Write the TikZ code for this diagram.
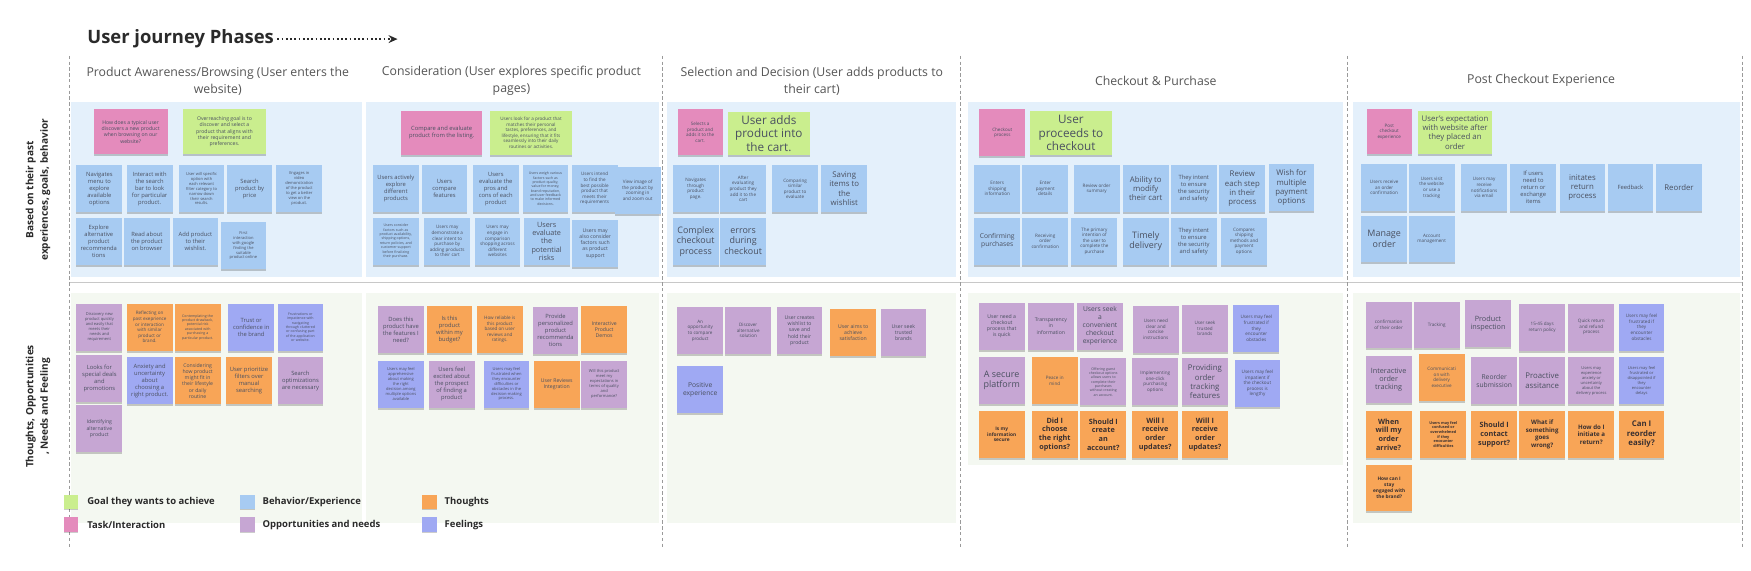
\documentclass[tikz,border=0pt]{standalone}
\usepackage{fontspec}
\setmainfont{Open Sans}
\usetikzlibrary{shadows,arrows.meta}
\definecolor{bandB}{HTML}{E4F0FB}
\definecolor{bandG}{HTML}{F4F8F1}
\definecolor{cBlue}{HTML}{A7CBF2}
\definecolor{cPurp}{HTML}{C6A6D3}
\definecolor{cOrng}{HTML}{F8A557}
\definecolor{cFeel}{HTML}{9FA9F3}
\definecolor{cPink}{HTML}{E48BBC}
\definecolor{cGoal}{HTML}{CAEE8E}
\definecolor{txt}{HTML}{4A5060}
\definecolor{qtxt}{HTML}{3A3030}
\definecolor{hdr}{HTML}{555555}
\definecolor{lbl}{HTML}{2A2A2A}
\definecolor{sep}{HTML}{C8C8C8}
\definecolor{dsh}{HTML}{9A9A9A}
\begin{document}
\begin{tikzpicture}[x=1pt,y=-1pt,
  nt/.style={minimum width=41pt,minimum height=42pt,inner sep=0.5pt,align=center,text=txt,
    drop shadow={shadow xshift=0pt,shadow yshift=-1.8pt,opacity=0.2,fill=black}},
  nb/.style={nt,fill=cBlue}, np/.style={nt,fill=cPurp}, no/.style={nt,fill=cOrng},
  nf/.style={nt,fill=cFeel}, nk/.style={nt,fill=cPink}, ng/.style={nt,fill=cGoal},
  nq/.style={nt,fill=cOrng,text=qtxt},
  t3/.style={font=\fontsize{3.2}{3.9}\selectfont},
  t35/.style={font=\fontsize{3.6}{4.4}\selectfont},
  t4/.style={font=\fontsize{4.1}{5}\selectfont},
  t45/.style={font=\fontsize{4.6}{5.6}\selectfont},
  t5/.style={font=\fontsize{5.2}{6.3}\selectfont},
  t6/.style={font=\fontsize{6}{7.2}\selectfont},
  t65/.style={font=\fontsize{6.5}{7.5}\selectfont},
  t7/.style={font=\fontsize{7}{8.3}\selectfont},
  t8/.style={font=\fontsize{8}{9.4}\selectfont},
  t10/.style={font=\fontsize{10.5}{12.3}\selectfont},
  b35/.style={font=\fontsize{3.4}{4.1}\selectfont\bfseries},
  b4/.style={font=\fontsize{4.3}{5.2}\selectfont\bfseries},
  b55/.style={font=\fontsize{5.5}{6.6}\selectfont\bfseries},
  b65/.style={font=\fontsize{6.5}{7.8}\selectfont\bfseries},
  b7/.style={font=\fontsize{7}{8.4}\selectfont\bfseries},
  phase/.style={font=\fontsize{11}{15}\selectfont,text=hdr,align=center},
  vdash/.style={draw=dsh,line width=0.8pt,dash pattern=on 3pt off 2.2pt},
  legbox/.style={minimum width=13pt,minimum height=13pt,inner sep=0pt,
    drop shadow={shadow xshift=0pt,shadow yshift=-1pt,opacity=0.2,fill=black}},
  legtxt/.style={font=\fontsize{8.5}{10}\selectfont\bfseries,text=lbl,anchor=west,inner sep=0pt}
]
\useasboundingbox (0,0) rectangle (1568,511);
\fill[white] (0,0) rectangle (1568,511);

% bands
\fill[bandB] (64,91) rectangle (324,248);
\fill[bandB] (328,91) rectangle (590,248);
\fill[bandB] (597,91) rectangle (856,248);
\fill[bandB] (867,91) rectangle (1203,248);
\fill[bandB] (1212,91) rectangle (1558,248);
\fill[bandG] (64,262) rectangle (324,468);
\fill[bandG] (328,262) rectangle (590,468);
\fill[bandG] (597,262) rectangle (856,468);
\fill[bandG] (867,262) rectangle (1203,416);
\fill[bandG] (1212,262) rectangle (1558,468);

% separators
\draw[sep,line width=1pt] (62,253) -- (1560,253);
\foreach \xx in {62.5,593,860.5,1207,1560} \draw[vdash] (\xx,50) -- (\xx,490);

% title
\node[font=\fontsize{16.5}{19}\selectfont\bfseries,text=lbl,anchor=west,inner sep=0pt] (title) at (78,35) {User journey Phases};
\coordinate (arrEnd) at (356,35);
\draw[lbl,line width=1.6pt,dash pattern=on 1.6pt off 2.2pt,-{Stealth[length=8pt,width=7pt]}] ([xshift=3pt]title.east) -- (arrEnd);

% phase headers
\node[phase] (h1) at (195,72.5) {Product Awareness/Browsing (User enters the\\website)};
\node[phase] (h2) at (458,72.5) {Consideration (User explores specific product\\pages)};
\node[phase] (h3) at (727,72.5) {Selection and Decision (User adds products to\\their cart)};
\node[phase] (h4) at (1035,72) {Checkout \& Purchase};
\node[phase] (h5) at (1380,72) {Post Checkout Experience};

% row labels
\node[rotate=90,font=\fontsize{9}{13}\selectfont\bfseries,align=center,text=lbl] (lab1) at (34,170) {Based on their past\\experiences, goals, behavior};
\node[rotate=90,font=\fontsize{9}{13}\selectfont\bfseries,align=center,text=lbl] (lab2) at (34,364) {Thoughts, Opportunities\\, Needs and Feeling};

% ---------- Phase 1 top
\node[nk,t45,minimum width=66pt,minimum height=40pt] (p1k) at (117,118) {How does a typical user\\discovers a new product\\when browsing on our\\website?};
\node[ng,t45,minimum width=74pt,minimum height=40pt] (p1g) at (201,118) {Overreaching goal is to\\discover and select a\\product that aligns with\\their requirement and\\preferences.};
\node[nb,t5] (p1b1) at (89,169) {Navigates\\menu to\\explore\\available\\options};
\node[nb,t5] (p1b2) at (134,169) {Interact with\\the search\\bar to look\\for particular\\product.};
\node[nb,t35] (p1b3) at (180.5,169) {User will specific\\option with\\each relevant\\filter category to\\narrow down\\their search\\results.};
\node[nb,t5] (p1b4) at (223.5,169) {Search\\product by\\price};
\node[nb,t35] (p1b5) at (268,169) {Engages in\\video\\demonstration\\of the product\\to get a better\\view on the\\product.};
\node[nb,t5] (p1b6) at (88.5,216) {Explore\\alternative\\product\\recommenda\\tions};
\node[nb,t5] (p1b7) at (131.5,216) {Read about\\the product\\on browser};
\node[nb,t5] (p1b8) at (175,216) {Add product\\to their\\wishlist.};
\node[nb,t35] (p1b9) at (218,220) {First\\interaction\\with google\\finding the\\suitable\\product online};

% ---------- Phase 1 bottom
\node[np,t35] (p1o1) at (89,293) {Discovery new\\product quickly\\and easily that\\meets their\\needs and\\requirement};
\node[no,t4] (p1o2) at (134,293) {Reflecting on\\past exeprience\\or interaction\\with similar\\product or\\brand.};
\node[no,t3] (p1o3) at (177,293) {Contemplating the\\product drawback,\\potential risk\\associated with\\purchasing a\\particular product.};
\node[nf,t5] (p1o4) at (225,293) {Trust or\\confidence in\\the brand};
\node[nf,t3] (p1o5) at (269,293) {Frustrations or\\impatience with\\navigating\\through cluttered\\or confusing part\\of the application\\or website.};
\node[np,t5] (p1o6) at (89,339) {Looks for\\special deals\\and\\promotions};
\node[nf,t5] (p1o7) at (134,341) {Anxiety and\\uncertainty\\about\\choosing a\\right product.};
\node[no,t45] (p1o8) at (177,341) {Considering\\how product\\might fit in\\their lifestyle\\or daily\\routine};
\node[no,t5] (p1o9) at (223,341) {User prioritize\\filters over\\manual\\searching};
\node[np,t5] (p1o10) at (269,341) {Search\\optimizations\\are necessary};
\node[np,t45] (p1o11) at (89,384) {Identifying\\alternative\\product};

% ---------- Phase 2 top
\node[nk,t5,minimum width=73pt,minimum height=40pt] (p2k) at (395.5,119) {Compare and evaluate\\product from the listing.};
\node[ng,t4,minimum width=73pt,minimum height=40pt] (p2g) at (475.5,119) {Users look for a product that\\matches their personal\\tastes, preferences, and\\lifestyle, ensuring that it fits\\seamlessly into their daily\\routines or activities.};
\node[nb,t5] (p2b1) at (354.5,169) {Users actively\\explore\\different\\products};
\node[nb,t5] (p2b2) at (398,169) {Users\\compare\\features};
\node[nb,t5] (p2b3) at (444,169) {Users\\evaluate the\\pros and\\cons of each\\product};
\node[nb,t3] (p2b4) at (488.5,169) {Users weigh various\\factors such as\\product quality,\\value for money,\\brand reputation,\\and user feedback\\to make informed\\decisions.};
\node[nb,t4] (p2b5) at (532.5,169) {Users intend\\to find the\\best possible\\product that\\meets their\\requirements};
\node[nb,t4] (p2b6) at (571,170.5) {View image of\\the product by\\zooming in\\and zoom out};
\node[nb,t3] (p2b7) at (354.5,216) {Users consider\\factors such as\\product availability,\\shipping options,\\return policies, and\\customer support\\before finalizing\\their purchase.};
\node[nb,t4] (p2b8) at (400.5,216) {Users may\\demonstrate a\\clear intent to\\purchase by\\adding products\\to their cart};
\node[nb,t4] (p2b9) at (445.5,216) {Users may\\engage in\\comparison\\shopping across\\different\\websites};
\node[nb,t65] (p2b10) at (489.5,216) {Users\\evaluate\\the\\potential\\risks};
\node[nb,t45] (p2b11) at (533,218) {Users may\\also consider\\factors such\\as product\\support};

% ---------- Phase 2 bottom
\node[np,t5] (p2o1) at (359,295) {Does this\\product have\\the features I\\need?};
\node[no,t5] (p2o2) at (402.5,295) {Is this\\product\\within my\\budget?};
\node[no,t4] (p2o3) at (447.5,295) {How reliable is\\this product\\based on user\\reviews and\\ratings.};
\node[np,t5] (p2o4) at (497.5,296) {Provide\\personalized\\product\\recommenda\\tions};
\node[no,t45] (p2o5) at (541,295) {Interactive\\Product\\Demos};
\node[nf,t35] (p2o6) at (359,344) {Users may feel\\apprehensive\\about making\\the right\\decision among\\multiple options\\available};
\node[np,t5] (p2o7) at (404.5,344) {Users feel\\excited about\\the prospect\\of finding a\\product};
\node[nf,t35] (p2o8) at (453.5,344) {Users may feel\\frustrated when\\they encounter\\difficulties or\\obstacles in the\\decision-making\\process.};
\node[no,t45] (p2o9) at (498.5,344) {User Reviews\\Integration};
\node[np,t35] (p2o10) at (541,344) {Will this product\\meet my\\expectations in\\terms of quality\\and\\performance?};

% ---------- Phase 3 top
\node[nk,t4,minimum width=40pt,minimum height=41pt] (p3k) at (627,118.5) {Selects a\\product and\\adds it to the\\cart.};
\node[ng,t10,minimum width=73pt,minimum height=39pt] (p3g) at (688.5,119.5) {User adds\\product into\\the cart.};
\node[nb,t4] (p3b1) at (623,169) {Navigates\\through\\product\\page.};
\node[nb,t4] (p3b2) at (665.5,169) {After\\evaluating\\product they\\add it to the\\cart};
\node[nb,t4] (p3b3) at (712,169) {Comparing\\similar\\product to\\evaluate};
\node[nb,t7] (p3b4) at (756,169) {Saving\\items to\\the\\wishlist};
\node[nb,t8] (p3b5) at (623,216) {Complex\\checkout\\process};
\node[nb,t8] (p3b6) at (665.5,216) {errors\\during\\checkout};

% ---------- Phase 3 bottom
\node[np,t4] (p3o1) at (627,296) {An\\opportunity\\to compare\\product};
\node[np,t4] (p3o2) at (670,296) {Discover\\alternative\\solution};
\node[np,t45] (p3o3) at (716,296) {User creates\\wishlist to\\save and\\hold their\\product};
\node[no,t45] (p3o4) at (764,298) {User aims to\\achieve\\satisfaction};
\node[np,t45] (p3o5) at (809,298) {User seek\\trusted\\brands};
\node[nf,t6] (p3o6) at (627,349) {Positive\\experience};

% ---------- Phase 4 top
\node[nk,t4,minimum width=41pt,minimum height=42pt] (p4k) at (897.5,119) {Checkout\\process};
\node[ng,t10,minimum width=74pt,minimum height=40pt] (p4g) at (959,119) {User\\proceeds to\\checkout};
\node[nb,t4] (p4b1) at (893,169) {Enters\\shipping\\information};
\node[nb,t4] (p4b2) at (936,169) {Enter\\payment\\details};
\node[nb,t4] (p4b3) at (982,169) {Review order\\summary};
\node[nb,t7] (p4b4) at (1026,169) {Ability to\\modify\\their cart};
\node[nb,t5] (p4b5) at (1069,169) {They intent\\to ensure\\the security\\and safety};
\node[nb,t7] (p4b6) at (1112.5,169) {Review\\each step\\in their\\process};
\node[nb,t7] (p4b7) at (1156.5,168) {Wish for\\multiple\\payment\\options};
\node[nb,t6] (p4b8) at (893,216) {Confirming\\purchases};
\node[nb,t4] (p4b9) at (936,216) {Receiving\\order\\confirmation};
\node[nb,t4] (p4b10) at (980,216) {The primary\\intention of\\the user to\\complete the\\purchase};
\node[nb,t8] (p4b11) at (1026,216) {Timely\\delivery};
\node[nb,t5] (p4b12) at (1069,216) {They intent\\to ensure\\the security\\and safety};
\node[nb,t4] (p4b13) at (1114,216) {Compares\\shipping\\methods and\\payment\\options};

% ---------- Phase 4 bottom
\node[np,t45] (p4o1) at (897,292) {User need a\\checkout\\process that\\is quick};
\node[np,t45] (p4o2) at (941,292) {Transparency\\in\\information};
\node[np,t6] (p4o3) at (985,292) {Users seek\\a\\convenient\\checkout\\experience};
\node[np,t4] (p4o4) at (1035,295) {Users need\\clear and\\concise\\instructions};
\node[np,t4] (p4o5) at (1079,294) {User seek\\trusted\\brands};
\node[nf,t4] (p4o6) at (1125,294) {Users may feel\\frustrated if\\they\\encounter\\obstacles};
\node[np,t8] (p4o7) at (897,340.5) {A secure\\platform};
\node[no,t4] (p4o8) at (944.5,341) {Peace in\\mind};
\node[np,t3] (p4o9) at (988,342) {Offering guest\\checkout options\\allows users to\\complete their\\purchases\\without creating\\an account.};
\node[np,t4] (p4o10) at (1034.5,342) {Implementing\\one-click\\purchasing\\options};
\node[np,t7] (p4o11) at (1079,342) {Providing\\order\\tracking\\features};
\node[nf,t4] (p4o12) at (1126,343.5) {Users may feel\\impatient if\\the checkout\\process is\\lengthy};
\node[nq,b4] (p4q1) at (897,389) {Is my\\information\\secure};
\node[nq,b65] (p4q2) at (944.5,389) {Did I\\choose\\the right\\options?};
\node[nq,b65] (p4q3) at (988,389) {Should I\\create\\an\\account?};
\node[nq,b65] (p4q4) at (1034.5,389) {Will I\\receive\\order\\updates?};
\node[nq,b65] (p4q5) at (1079,389) {Will I\\receive\\order\\updates?};

% ---------- Phase 5 top
\node[nk,t4,minimum width=40pt,minimum height=40pt] (p5k) at (1244,118) {Post\\checkout\\experience};
\node[ng,t7,minimum width=66pt,minimum height=39pt] (p5g) at (1303,118.5) {User's expectation\\with website after\\they placed an\\order};
\node[nb,t4] (p5b1) at (1239.5,168) {Users receive\\an order\\confirmation};
\node[nb,t4] (p5b2) at (1282,168) {Users visit\\the website\\or use a\\tracking};
\node[nb,t4] (p5b3) at (1329,168) {Users may\\receive\\notifications\\via email};
\node[nb,t5] (p5b4) at (1373,168) {If users\\need to\\return or\\exchange\\items};
\node[nb,t7] (p5b5) at (1417,168) {initates\\return\\process};
\node[nb,t5] (p5b6) at (1460,168) {Feedback};
\node[nb,t7] (p5b7) at (1503.5,168) {Reorder};
\node[nb,t8] (p5b8) at (1239.5,214) {Manage\\order};
\node[nb,t4] (p5b9) at (1282,214) {Account\\management};

% ---------- Phase 5 bottom
\node[np,t4] (p5o1) at (1243.5,291) {confirmation\\of their order};
\node[np,t4] (p5o2) at (1286.5,291) {Tracking};
\node[np,t65] (p5o3) at (1332.5,290) {Product\\inspection};
\node[np,t4] (p5o4) at (1381,293) {15-45 days\\return policy};
\node[np,t4] (p5o5) at (1425,293) {Quick return\\and refund\\process};
\node[nf,t4] (p5o6) at (1470,293) {Users may feel\\frustrated if\\they\\encounter\\obstacles};
\node[np,t65] (p5o7) at (1243.5,340) {Interactive\\order\\tracking};
\node[no,t4] (p5o8) at (1291,338) {Communicati\\on with\\delivery\\executive};
\node[np,t6] (p5o9) at (1338,341) {Reorder\\submission};
\node[np,t7] (p5o10) at (1381,341) {Proactive\\assitance};
\node[np,t35] (p5o11) at (1425,341) {Users may\\experience\\anxiety or\\uncertainty\\about the\\delivery process};
\node[nf,t35] (p5o12) at (1470,341) {Users may feel\\frustrated or\\disappointed if\\they\\encounter\\delays};
\node[nq,b65] (p5q1) at (1243.5,389) {When\\will my\\order\\arrive?};
\node[nq,b35] (p5q2) at (1292.5,389) {Users may feel\\confused or\\overwhelmed\\if they\\encounter\\difficulties};
\node[nq,b65] (p5q3) at (1338,389) {Should I\\contact\\support?};
\node[nq,b55] (p5q4) at (1381,389) {What if\\something\\goes\\wrong?};
\node[nq,b55] (p5q5) at (1425,389) {How do I\\initiate a\\return?};
\node[nq,b7] (p5q6) at (1470,389) {Can I\\reorder\\easily?};
\node[nq,b4] (p5q7) at (1244,437) {How can I\\stay\\engaged with\\the brand?};

% ---------- legend
\node[legbox,fill=cGoal] (lg1) at (63.5,449.5) {};
\node[legtxt] (lt1) at (78,450) {Goal they wants to achieve};
\node[legbox,fill=cPink] (lg2) at (63.5,469.5) {};
\node[legtxt] (lt2) at (78,470) {Task/Interaction};
\node[legbox,fill=cBlue] (lg3) at (221.5,449.5) {};
\node[legtxt] (lt3) at (235,450) {Behavior/Experience};
\node[legbox,fill=cPurp] (lg4) at (221.5,469.5) {};
\node[legtxt] (lt4) at (235,470) {Opportunities and needs};
\node[legbox,fill=cOrng] (lg5) at (384.5,449.5) {};
\node[legtxt] (lt5) at (398,450) {Thoughts};
\node[legbox,fill=cFeel] (lg6) at (384.5,469.5) {};
\node[legtxt] (lt6) at (398,470) {Feelings};
\end{tikzpicture}
\end{document}
